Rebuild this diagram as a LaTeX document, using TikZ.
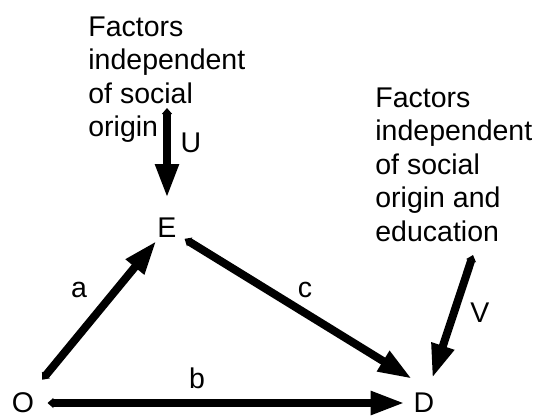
\documentclass[tikz,border=0pt]{standalone}
\usepackage{fontspec}
\setmainfont{Liberation Sans}
\usetikzlibrary{arrows.meta}

\begin{document}
\begin{tikzpicture}[x=0.5pt,y=-0.5pt,
    font=\fontsize{14.25pt}{16.75pt}\selectfont,
    arr/.style={line width=4pt,{Triangle[length=3pt,width=5pt]}-{Triangle[length=17pt,width=11pt]}},
    letter/.style={inner sep=0pt},
    factors/.style={inner sep=0pt,anchor=north west,align=left}]
    \useasboundingbox (0,0) rectangle (536,419);

    \node[letter] (O) at (23,403) {O};
    \node[letter] (E) at (167,228) {E};
    \node[letter] (D) at (424,403) {D};

    \node[factors] (fu) at (88,16) {Factors\\independent\\of social\\origin};
    \node[factors] (fv) at (375,87) {Factors\\independent\\of social\\origin and\\education};

    \coordinate (u0) at (167,108);
    \coordinate (v0) at (473,255);

    \draw[arr,shorten <=8.3pt,shorten >=1.7pt] (O) -- (E);
    \draw[arr,shorten <=4.5pt,shorten >=13.3pt] (E) -- (D.north east);
    \draw[arr,shorten <=6.5pt,shorten >=4.3pt] (O) -- (D);
    \draw[arr,shorten >=9.9pt] (u0) -- (E);
    \draw[arr,shorten >=7.7pt] (v0) -- (D);

    \node[letter] (la) at (79,290) {a};
    \node[letter] (lb) at (197,378) {b};
    \node[letter] (lc) at (305,290) {c};
    \node[letter] (lu) at (191,143) {U};
    \node[letter] (lv) at (480,313) {V};
  \end{tikzpicture}
\end{document}
